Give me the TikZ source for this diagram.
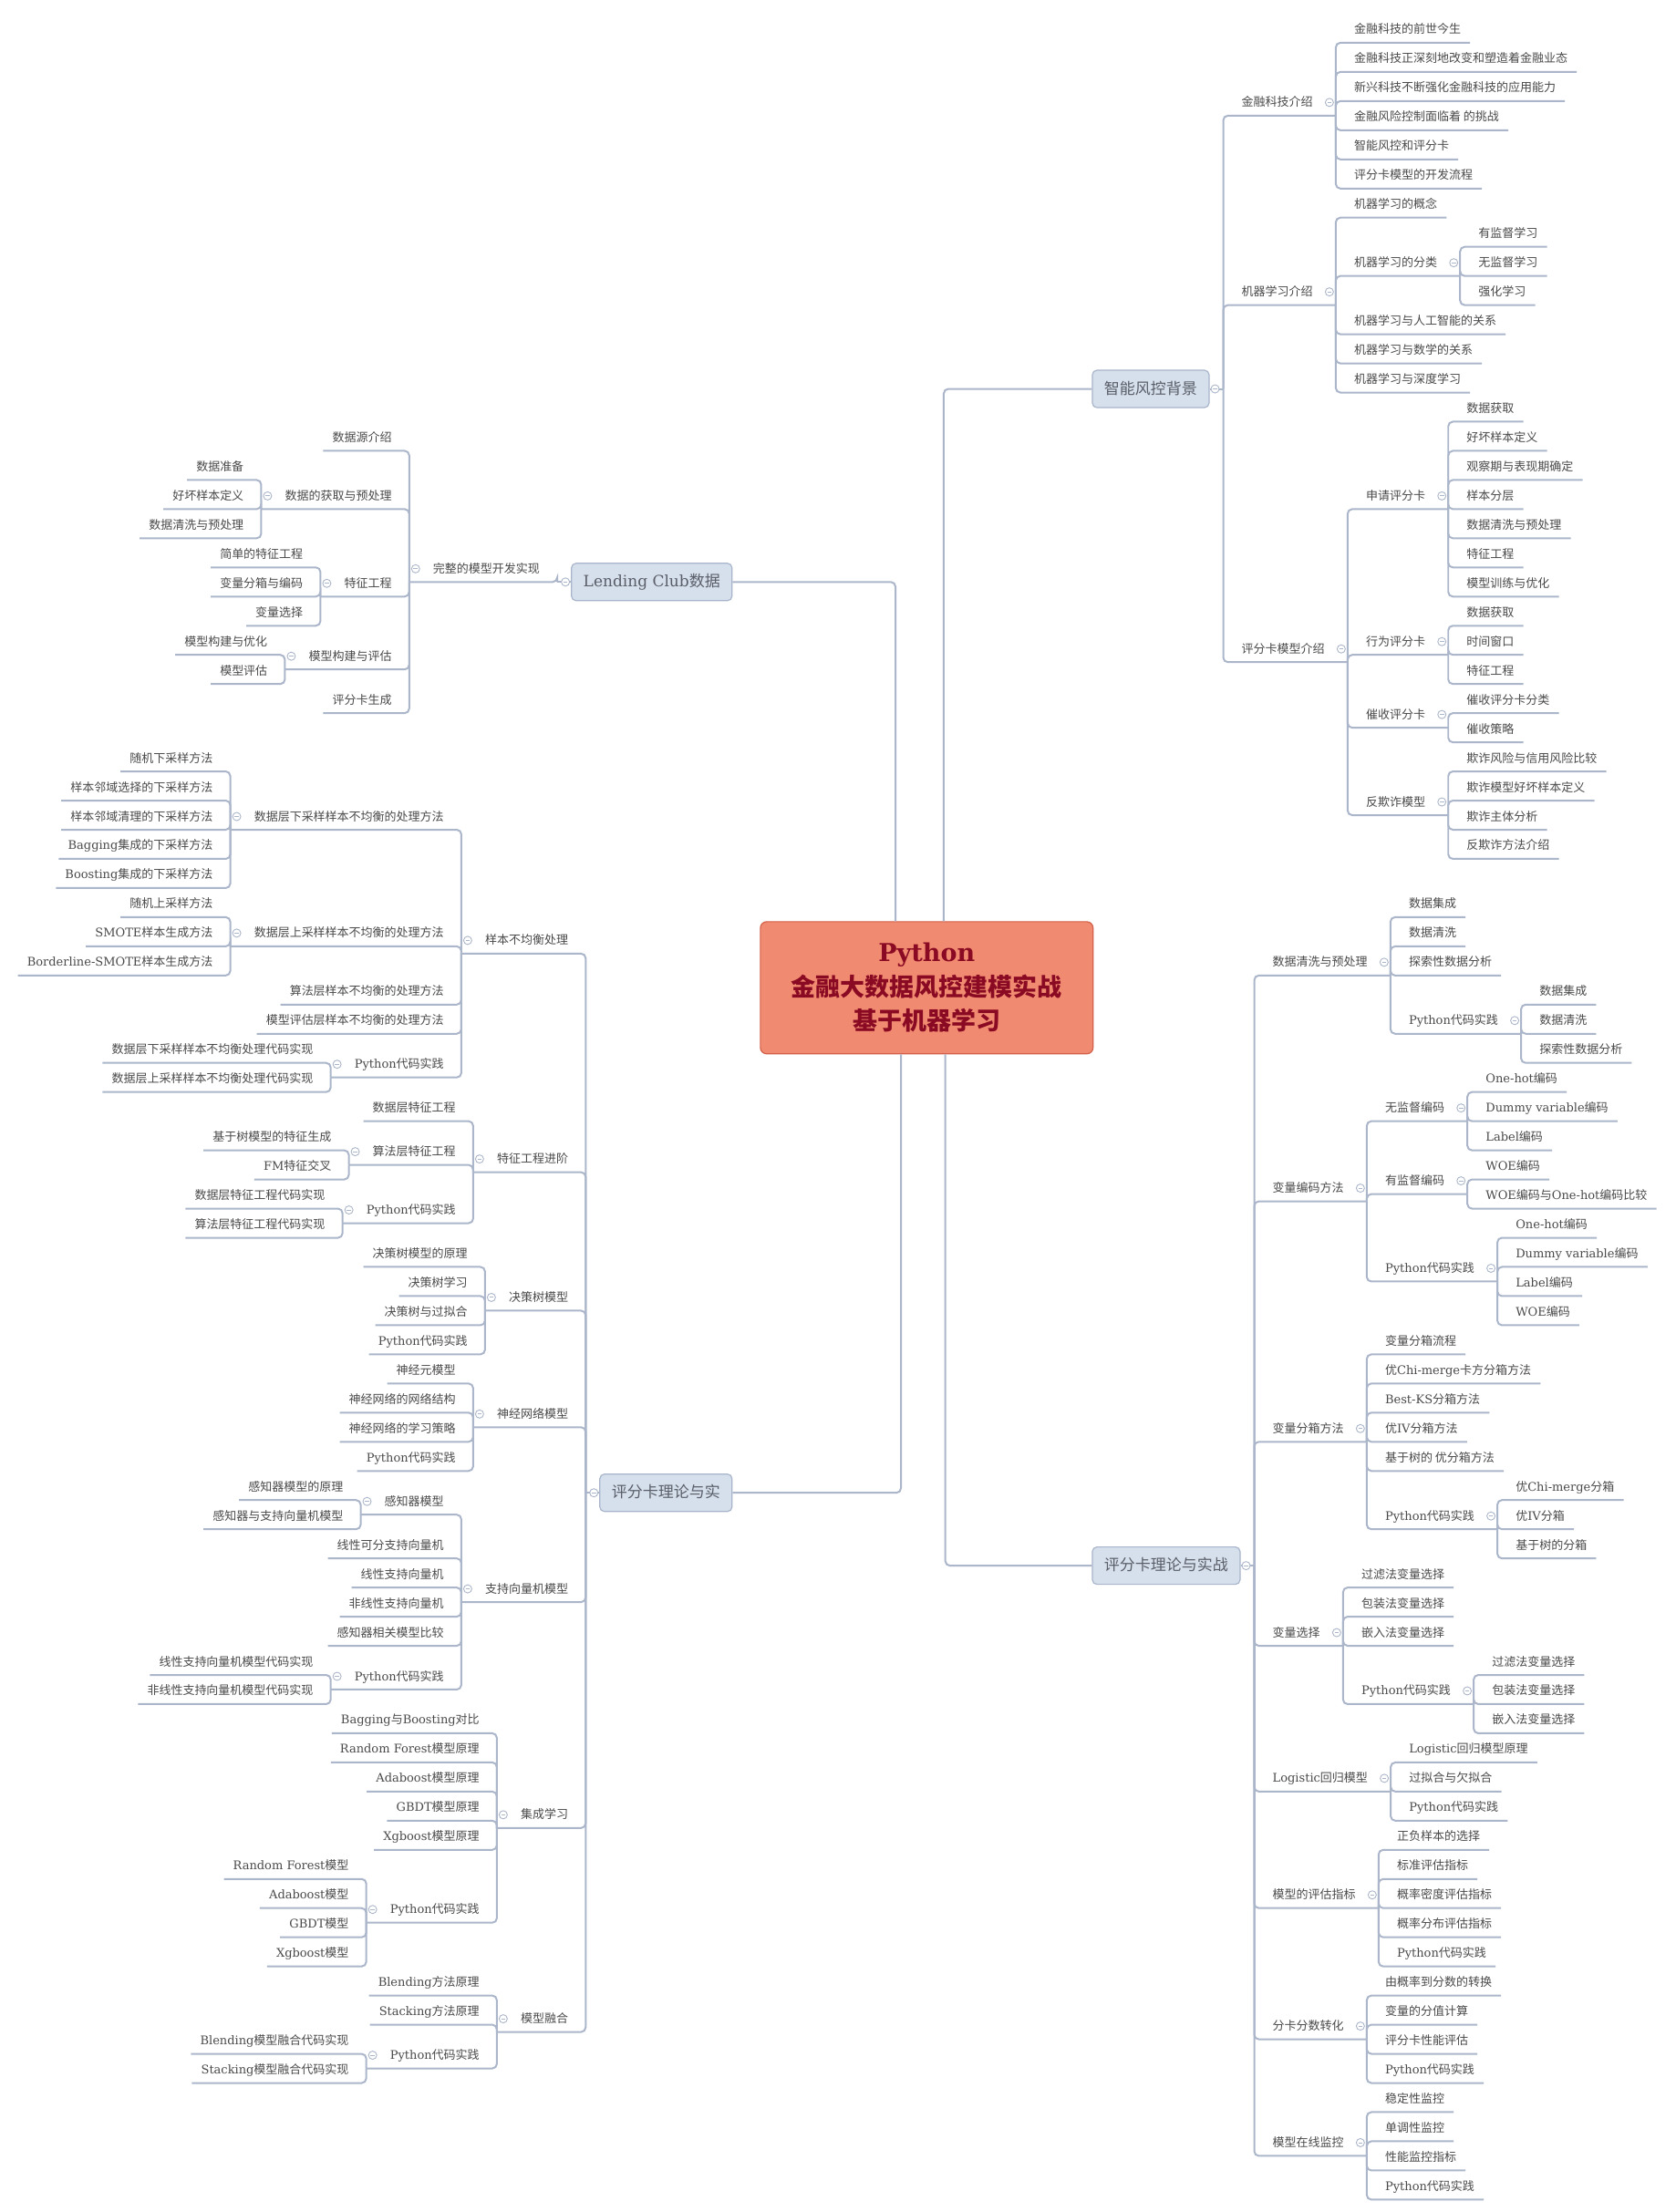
\documentclass[tikz,border=0pt]{standalone}
\usepackage{fontspec}
\setmainfont{DejaVu Serif}
\newfontfamily\cjkf{Noto Sans CJK SC}
\newfontfamily\latf{DejaVu Serif}
\usetikzlibrary{calc}
\def\mycjk{3001 }
\count255="3000
\loop\XeTeXcharclass\count255=\mycjk\relax\ifnum\count255<"303F \advance\count255 by 1 \repeat
\count255="4E00
\loop\XeTeXcharclass\count255=\mycjk\relax\ifnum\count255<"9FFF \advance\count255 by 1 \repeat
\XeTeXinterchartoks 0 \mycjk = {\cjkf}
\XeTeXinterchartoks 4095 \mycjk = {\cjkf}
\XeTeXinterchartoks \mycjk 0 = {\latf}
\definecolor{cline}{HTML}{ABB6CB}
\definecolor{ltext}{HTML}{4A4A4A}
\definecolor{mfill}{HTML}{D6DFEC}
\definecolor{mborder}{HTML}{A8B5CB}
\definecolor{mtext}{HTML}{5A5F69}
\definecolor{cfill}{HTML}{F08A70}
\definecolor{cborder}{HTML}{D3614B}
\definecolor{ctext}{HTML}{8B0A23}
\tikzset{
  conn/.style={draw=cline, line width=2pt, rounded corners=5pt},
  lf/.style={inner sep=0pt, font=\fontsize{13}{15}\selectfont, text=ltext, text height=11pt, text depth=2pt},
  mbox/.style={draw=mborder, fill=mfill, line width=1.2pt, rounded corners=5pt, font=\fontsize{17}{20}\selectfont, text=mtext, inner xsep=13pt, inner ysep=0pt, minimum height=41pt, text height=14pt, text depth=3pt},
  icon/.style={circle, draw=cline, fill=white, line width=0.9pt, minimum size=9pt, inner sep=0pt,
    path picture={\draw[cline,line width=0.9pt] ([xshift=-2.3pt]path picture bounding box.center) -- ([xshift=2.3pt]path picture bounding box.center);}},
  ctrbox/.style={draw=cborder, fill=cfill, line width=1.2pt, rounded corners=7pt, minimum width=365pt, minimum height=145pt, align=center, text=ctext, font=\bfseries\fontsize{27}{37.5}\selectfont}
}
\newcounter{lfc}
% right leaf: parent bar coord, row, text
\newcommand\RN[3]{\stepcounter{lfc}%
  \node[lf,anchor=west] (lf\arabic{lfc}) at ($(#1 |- 0,#2)+(20pt,0)$) {#3};
  \draw[conn] (#1) |- ($(lf\arabic{lfc}.east)+(10pt,-14.5pt)$);}
% right parent: parent bar coord, name, row, text
\newcommand\RP[4]{%
  \node[lf,anchor=west] (#2) at ($(#1 |- 0,#3)+(20pt,0)$) {#4};
  \coordinate (#2B) at ($(#2.east)+(25pt,-14.5pt)$);
  \draw[conn] (#1) |- (#2B);
  \node[icon] (#2I) at ($(#2.east)+(18pt,0)$) {};}
% left leaf
\newcommand\LN[3]{\stepcounter{lfc}%
  \node[lf,anchor=east] (lf\arabic{lfc}) at ($(#1 |- 0,#2)+(-19pt,0)$) {#3};
  \draw[conn] (#1) |- ($(lf\arabic{lfc}.west)+(-10pt,-14.5pt)$);}
% left parent
\newcommand\LP[4]{%
  \node[lf,anchor=east] (#2) at ($(#1 |- 0,#3)+(-19pt,0)$) {#4};
  \coordinate (#2B) at ($(#2.west)+(-26pt,-14.5pt)$);
  \draw[conn] (#1) |- (#2B);
  \node[icon] (#2I) at ($(#2.west)+(-19pt,0)$) {};}
\begin{document}
\XeTeXinterchartokenstate=1
\begin{tikzpicture}[x=1.5455pt, y=-31.976pt]
\fill[white] (0,-1.015) rectangle (1189.6,74.88);
\useasboundingbox (0,-1.015) rectangle (1189.6,74.88);

% ---------- centre ----------
\node[ctrbox] (ctr) at (657.8,32.876) {Python\\金融大数据风控建模实战\\基于机器学习};

% ---------- main boxes ----------
\node[mbox,anchor=west] (R1) at ($(775,11.875)+(0,-14.5pt)$) {智能风控背景};
\node[mbox,anchor=west] (R2) at ($(775,52.25)+(0,-14.5pt)$) {评分卡理论与实战};
\node[mbox,anchor=east] (L1) at ($(520,18.5)+(0,-14.5pt)$) {Lending Club数据};
\node[mbox,anchor=east] (L2) at ($(520,49.75)+(0,-14.5pt)$) {评分卡理论与实};

\draw[conn] (ctr.north -| 635.6,0) |- (L1.east);
\draw[conn] (ctr.north -| 669.9,0) |- (R1.west);
\draw[conn] (ctr.south -| 639.5,0) |- (L2.east);
\draw[conn] (ctr.south -| 671,0) |- (R2.west);

\coordinate (R1B) at ($(R1.east)+(15pt,0)$);
\coordinate (R2B) at ($(R2.east)+(15pt,0)$);
\coordinate (L1B) at ($(L1.west)+(-15pt,0)$);
\coordinate (L2B) at ($(L2.west)+(-15pt,0)$);
\draw[conn] (R1.east) -- (R1B);
\draw[conn] (R2.east) -- (R2B);
\draw[conn] (L1.west) -- (L1B);
\draw[conn] (L2.west) -- (L2B);
\node[icon] (R1I) at ($(R1.east)+(6pt,0)$) {};
\node[icon] (R2I) at ($(R2.east)+(6pt,0)$) {};
\node[icon] (L1I) at ($(L1.west)+(-6pt,0)$) {};
\node[icon] (L2I) at ($(L2.west)+(-6pt,0)$) {};

% ---------- right top ----------
\RP{R1B}{a}{2.5}{金融科技介绍}
 \RN{aB}{0}{金融科技的前世今生}
 \RN{aB}{1}{金融科技正深刻地改变和塑造着金融业态}
 \RN{aB}{2}{新兴科技不断强化金融科技的应用能力}
 \RN{aB}{3}{金融风险控制面临着 的挑战}
 \RN{aB}{4}{智能风控和评分卡}
 \RN{aB}{5}{评分卡模型的开发流程}
\RP{R1B}{b}{9}{机器学习介绍}
 \RN{bB}{6}{机器学习的概念}
 \RP{bB}{bb}{8}{机器学习的分类}
  \RN{bbB}{7}{有监督学习}
  \RN{bbB}{8}{无监督学习}
  \RN{bbB}{9}{强化学习}
 \RN{bB}{10}{机器学习与人工智能的关系}
 \RN{bB}{11}{机器学习与数学的关系}
 \RN{bB}{12}{机器学习与深度学习}
\RP{R1B}{c}{21.25}{评分卡模型介绍}
 \RP{cB}{ca}{16}{申请评分卡}
  \RN{caB}{13}{数据获取}
  \RN{caB}{14}{好坏样本定义}
  \RN{caB}{15}{观察期与表现期确定}
  \RN{caB}{16}{样本分层}
  \RN{caB}{17}{数据清洗与预处理}
  \RN{caB}{18}{特征工程}
  \RN{caB}{19}{模型训练与优化}
 \RP{cB}{cb}{21}{行为评分卡}
  \RN{cbB}{20}{数据获取}
  \RN{cbB}{21}{时间窗口}
  \RN{cbB}{22}{特征工程}
 \RP{cB}{cc}{23.5}{催收评分卡}
  \RN{ccB}{23}{催收评分卡分类}
  \RN{ccB}{24}{催收策略}
 \RP{cB}{cd}{26.5}{反欺诈模型}
  \RN{cdB}{25}{欺诈风险与信用风险比较}
  \RN{cdB}{26}{欺诈模型好坏样本定义}
  \RN{cdB}{27}{欺诈主体分析}
  \RN{cdB}{28}{反欺诈方法介绍}

% ---------- right bottom ----------
\RP{R2B}{d}{32}{数据清洗与预处理}
 \RN{dB}{30}{数据集成}
 \RN{dB}{31}{数据清洗}
 \RN{dB}{32}{探索性数据分析}
 \RP{dB}{dd}{34}{Python代码实践}
  \RN{ddB}{33}{数据集成}
  \RN{ddB}{34}{数据清洗}
  \RN{ddB}{35}{探索性数据分析}
\RP{R2B}{e}{39.75}{变量编码方法}
 \RP{eB}{ea}{37}{无监督编码}
  \RN{eaB}{36}{One-hot编码}
  \RN{eaB}{37}{Dummy variable编码}
  \RN{eaB}{38}{Label编码}
 \RP{eB}{eb}{39.5}{有监督编码}
  \RN{ebB}{39}{WOE编码}
  \RN{ebB}{40}{WOE编码与One-hot编码比较}
 \RP{eB}{ec}{42.5}{Python代码实践}
  \RN{ecB}{41}{One-hot编码}
  \RN{ecB}{42}{Dummy variable编码}
  \RN{ecB}{43}{Label编码}
  \RN{ecB}{44}{WOE编码}
\RP{R2B}{f}{48}{变量分箱方法}
 \RN{fB}{45}{变量分箱流程}
 \RN{fB}{46}{优Chi-merge卡方分箱方法}
 \RN{fB}{47}{Best-KS分箱方法}
 \RN{fB}{48}{优IV分箱方法}
 \RN{fB}{49}{基于树的 优分箱方法}
 \RP{fB}{ff}{51}{Python代码实践}
  \RN{ffB}{50}{优Chi-merge分箱}
  \RN{ffB}{51}{优IV分箱}
  \RN{ffB}{52}{基于树的分箱}
\RP{R2B}{g}{55}{变量选择}
 \RN{gB}{53}{过滤法变量选择}
 \RN{gB}{54}{包装法变量选择}
 \RN{gB}{55}{嵌入法变量选择}
 \RP{gB}{gg}{57}{Python代码实践}
  \RN{ggB}{56}{过滤法变量选择}
  \RN{ggB}{57}{包装法变量选择}
  \RN{ggB}{58}{嵌入法变量选择}
\RP{R2B}{h}{60}{Logistic回归模型}
 \RN{hB}{59}{Logistic回归模型原理}
 \RN{hB}{60}{过拟合与欠拟合}
 \RN{hB}{61}{Python代码实践}
\RP{R2B}{i}{64}{模型的评估指标}
 \RN{iB}{62}{正负样本的选择}
 \RN{iB}{63}{标准评估指标}
 \RN{iB}{64}{概率密度评估指标}
 \RN{iB}{65}{概率分布评估指标}
 \RN{iB}{66}{Python代码实践}
\RP{R2B}{j}{68.5}{分卡分数转化}
 \RN{jB}{67}{由概率到分数的转换}
 \RN{jB}{68}{变量的分值计算}
 \RN{jB}{69}{评分卡性能评估}
 \RN{jB}{70}{Python代码实践}
\RP{R2B}{k}{72.5}{模型在线监控}
 \RN{kB}{71}{稳定性监控}
 \RN{kB}{72}{单调性监控}
 \RN{kB}{73}{性能监控指标}
 \RN{kB}{74}{Python代码实践}

% ---------- left top ----------
\LP{L1B}{m}{18.5}{完整的模型开发实现}
 \LN{mB}{14}{数据源介绍}
 \LP{mB}{mb}{16}{数据的获取与预处理}
  \LN{mbB}{15}{数据准备}
  \LN{mbB}{16}{好坏样本定义}
  \LN{mbB}{17}{数据清洗与预处理}
 \LP{mB}{mc}{19}{特征工程}
  \LN{mcB}{18}{简单的特征工程}
  \LN{mcB}{19}{变量分箱与编码}
  \LN{mcB}{20}{变量选择}
 \LP{mB}{md}{21.5}{模型构建与评估}
  \LN{mdB}{21}{模型构建与优化}
  \LN{mdB}{22}{模型评估}
 \LN{mB}{23}{评分卡生成}

% ---------- left bottom ----------
\LP{L2B}{n}{31.25}{样本不均衡处理}
 \LP{nB}{na}{27}{数据层下采样样本不均衡的处理方法}
  \LN{naB}{25}{随机下采样方法}
  \LN{naB}{26}{样本邻域选择的下采样方法}
  \LN{naB}{27}{样本邻域清理的下采样方法}
  \LN{naB}{28}{Bagging集成的下采样方法}
  \LN{naB}{29}{Boosting集成的下采样方法}
 \LP{nB}{nb}{31}{数据层上采样样本不均衡的处理方法}
  \LN{nbB}{30}{随机上采样方法}
  \LN{nbB}{31}{SMOTE样本生成方法}
  \LN{nbB}{32}{Borderline-SMOTE样本生成方法}
 \LN{nB}{33}{算法层样本不均衡的处理方法}
 \LN{nB}{34}{模型评估层样本不均衡的处理方法}
 \LP{nB}{ne}{35.5}{Python代码实践}
  \LN{neB}{35}{数据层下采样样本不均衡处理代码实现}
  \LN{neB}{36}{数据层上采样样本不均衡处理代码实现}
\LP{L2B}{o}{38.75}{特征工程进阶}
 \LN{oB}{37}{数据层特征工程}
 \LP{oB}{ob}{38.5}{算法层特征工程}
  \LN{obB}{38}{基于树模型的特征生成}
  \LN{obB}{39}{FM特征交叉}
 \LP{oB}{oc}{40.5}{Python代码实践}
  \LN{ocB}{40}{数据层特征工程代码实现}
  \LN{ocB}{41}{算法层特征工程代码实现}
\LP{L2B}{p}{43.5}{决策树模型}
 \LN{pB}{42}{决策树模型的原理}
 \LN{pB}{43}{决策树学习}
 \LN{pB}{44}{决策树与过拟合}
 \LN{pB}{45}{Python代码实践}
\LP{L2B}{q}{47.5}{神经网络模型}
 \LN{qB}{46}{神经元模型}
 \LN{qB}{47}{神经网络的网络结构}
 \LN{qB}{48}{神经网络的学习策略}
 \LN{qB}{49}{Python代码实践}
\LP{L2B}{r}{53.5}{支持向量机模型}
 \LP{rB}{ra}{50.5}{感知器模型}
  \LN{raB}{50}{感知器模型的原理}
  \LN{raB}{51}{感知器与支持向量机模型}
 \LN{rB}{52}{线性可分支持向量机}
 \LN{rB}{53}{线性支持向量机}
 \LN{rB}{54}{非线性支持向量机}
 \LN{rB}{55}{感知器相关模型比较}
 \LP{rB}{rf}{56.5}{Python代码实践}
  \LN{rfB}{56}{线性支持向量机模型代码实现}
  \LN{rfB}{57}{非线性支持向量机模型代码实现}
\LP{L2B}{s}{61.25}{集成学习}
 \LN{sB}{58}{Bagging与Boosting对比}
 \LN{sB}{59}{Random Forest模型原理}
 \LN{sB}{60}{Adaboost模型原理}
 \LN{sB}{61}{GBDT模型原理}
 \LN{sB}{62}{Xgboost模型原理}
 \LP{sB}{sf}{64.5}{Python代码实践}
  \LN{sfB}{63}{Random Forest模型}
  \LN{sfB}{64}{Adaboost模型}
  \LN{sfB}{65}{GBDT模型}
  \LN{sfB}{66}{Xgboost模型}
\LP{L2B}{t}{68.25}{模型融合}
 \LN{tB}{67}{Blending方法原理}
 \LN{tB}{68}{Stacking方法原理}
 \LP{tB}{tc}{69.5}{Python代码实践}
  \LN{tcB}{69}{Blending模型融合代码实现}
  \LN{tcB}{70}{Stacking模型融合代码实现}
\end{tikzpicture}
\end{document}
